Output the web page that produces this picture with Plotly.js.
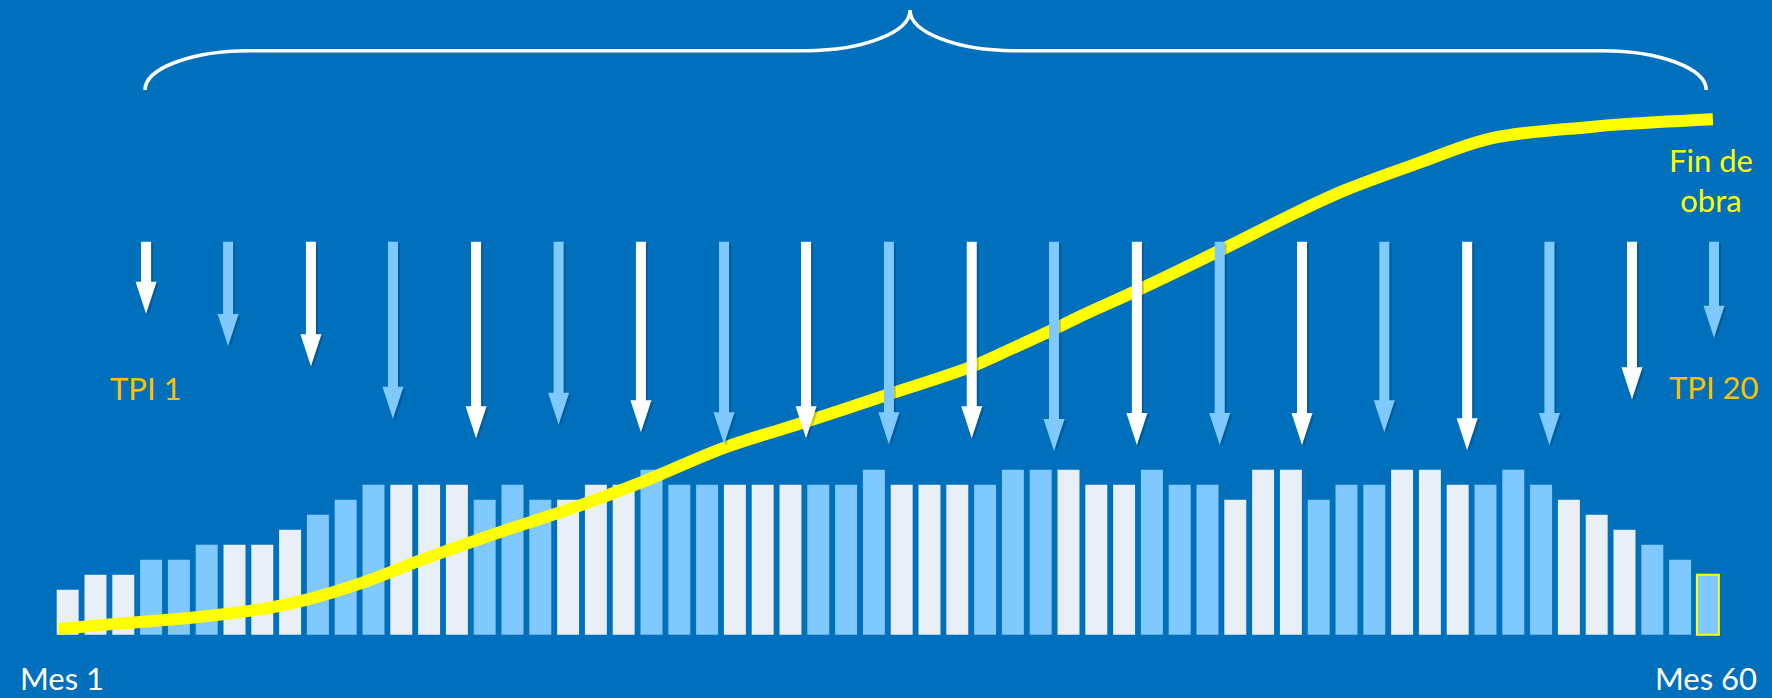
<!DOCTYPE html>
<html>
<head>
<meta charset="utf-8">
<script src="https://cdn.plot.ly/plotly-3.0.1.min.js"></script>
<style>
  html, body { margin: 0; padding: 0; background: #0070BC; }
  #chart { width: 1772px; height: 698px; }
</style>
</head>
<body>
<div id="chart"></div>
<script>
// ---------------- DATA ----------------
const months = [1,2,3,4,5,6,7,8,9,10,11,12,13,14,15,16,17,18,19,20,
                21,22,23,24,25,26,27,28,29,30,31,32,33,34,35,36,37,38,39,40,
                41,42,43,44,45,46,47,48,49,50,51,52,53,54,55,56,57,58,59,60];
const barValues = [3,4,4,5,5,6,6,6,7,8,9,10,10,10,10,9,10,9,9,10,
                   10,11,10,10,10,10,10,10,10,11,10,10,10,10,11,11,11,10,10,11,
                   10,10,9,11,11,9,10,10,11,11,10,10,11,10,9,8,7,6,5,4];
const barTone = ['w','w','w','b','b','b','w','w','w','b','b','b','w','w','w','b','b','b','w','w',
                 'w','b','b','b','w','w','w','b','b','b','w','w','w','b','b','b','w','w','w','b',
                 'b','b','w','w','w','b','b','b','w','w','w','b','b','b','w','w','w','b','b','b'];
const highlightMonth = 60;

// cumulative progress S-curve (month, %)
const curveMonth = [0.65,2.70,5.44,8.21,9.57,11.66,13.71,16.44,19.36,21.83,24.58,27.58,30.46,
                    33.52,35.00,36.44,37.41,39.50,42.50,45.15,46.95,49.58,52.24,55.80,56.84,60.18];
const curvePct   = [0,1.0,2.2,4.1,5.7,9.2,13.5,18.8,24.1,29.2,35.5,40.7,45.9,
                    51.5,55.1,58.7,61.3,66.5,74.4,81.6,86.1,91.4,96.3,98.5,99.0,100];

// TPI arrows (position in months, tip level, tone)
const arrowMonth = [3.82,6.77,9.75,12.70,15.69,18.66,21.62,24.61,27.56,30.54,
                    33.52,36.48,39.46,42.44,45.40,48.36,51.34,54.30,57.27,60.22];
const arrowTip   = [21.4,19.25,17.9,14.4,13.1,14.0,13.5,12.7,13.1,12.7,
                    13.1,12.25,12.65,12.65,12.65,13.5,12.3,12.65,15.7,19.8];
const arrowTone  = ['w','b','w','b','w','b','w','b','w','b','w','b','w','b','w','b','w','b','w','b'];
const arrowTop = 26.2;

const tickMonths = [1, 60];
const tickLabels = ['Mes 1', 'Mes 60'];
const tpiLabels = ['TPI 1', 'TPI 20'];
const endLabel = 'Fin de<br>obra';

// ---------------- STYLE ----------------
const BG = '#0070BC';
const WHITE_BAR = '#E9EFF7';
const BLUE_BAR = '#7FC9FF';
const YELLOW = '#FFFF00';
const GOLD = '#FFC000';
const FONT = 'Lato, "Open Sans", sans-serif';

const W = 1772, H = 698;
// axis geometry
const xRange = [-1.435, 62.306];
const yRange = [-4.22, 42.313];
const y2Range = [-13.54, 123.4];
const pxPerMonth = W / (xRange[1] - xRange[0]);
const pxPerUnit = H / (yRange[1] - yRange[0]);

// bars
const barColors = barTone.map(t => t === 'w' ? WHITE_BAR : BLUE_BAR);
const barLineColors = months.map(m => m === highlightMonth ? YELLOW : 'rgba(0,0,0,0)');
const barLineWidths = months.map(m => m === highlightMonth ? 2 : 0);

// arrows built from data through axis units
const shaftHalf = 5 / pxPerMonth;
const headHalf = 10.5 / pxPerMonth;
const headLen = 32 / pxPerUnit;
function arrowPolys(tone, dx, dy) {
  const xs = [], ys = [];
  arrowMonth.forEach((m, i) => {
    if (arrowTone[i] !== tone) return;
    const c = m + dx, tip = arrowTip[i] + dy, top = arrowTop + dy, hb = tip + headLen;
    xs.push(c - shaftHalf, c + shaftHalf, c + shaftHalf, c + headHalf, c, c - headHalf, c - shaftHalf, c - shaftHalf, null);
    ys.push(top, top, hb, hb, tip, hb, hb, top, null);
  });
  return {xs, ys};
}
function arrowTrace(tone, color, dx, dy) {
  const p = arrowPolys(tone, dx, dy);
  return {
    type: 'scatter', mode: 'lines', x: p.xs, y: p.ys, yaxis: 'y3',
    fill: 'toself', fillcolor: color, line: {width: 0, color: color},
    hoverinfo: 'skip', connectgaps: false
  };
}
const sdx = 2 / pxPerMonth, sdy = -2 / pxPerUnit;

const traces = [
  {
    type: 'bar', x: months, y: barValues,
    marker: {color: barColors, line: {color: barLineColors, width: barLineWidths}},
    hoverinfo: 'skip'
  },
  {
    type: 'scatter', mode: 'lines', x: curveMonth, y: curvePct, yaxis: 'y2',
    line: {color: YELLOW, width: 12, shape: 'spline', smoothing: 1.0},
    hoverinfo: 'skip'
  },
  arrowTrace('w', 'rgba(0,25,60,0.22)', sdx, sdy),
  arrowTrace('b', 'rgba(0,25,60,0.22)', sdx, sdy),
  arrowTrace('w', '#FFFFFF', 0, 0),
  arrowTrace('b', BLUE_BAR, 0, 0)
];

// brace spanning the TPI sequence
const braceLeft = 3.78, braceTip = 31.30, braceRight = 59.94;
const corner = 104 / pxPerMonth;
const yEnd = 1 - 90 / H, yLine = 1 - 50.7 / H, yTip = 1 - 10 / H;
const k = 0.55;
const ey = (yLine - yEnd) * k, ty = (yTip - yLine) * k;
const bracePath =
  `M ${braceLeft},${yEnd} C ${braceLeft},${yEnd + ey} ${braceLeft + corner*(1-k)},${yLine} ${braceLeft + corner},${yLine} ` +
  `L ${braceTip - corner},${yLine} C ${braceTip - corner*(1-k)},${yLine} ${braceTip},${yTip - ty} ${braceTip},${yTip} ` +
  `C ${braceTip},${yTip - ty} ${braceTip + corner*(1-k)},${yLine} ${braceTip + corner},${yLine} ` +
  `L ${braceRight - corner},${yLine} C ${braceRight - corner*(1-k)},${yLine} ${braceRight},${yEnd + ey} ${braceRight},${yEnd}`;

const annotations = [
  {text: tpiLabels[0], x: arrowMonth[0], xref: 'x', y: 1 - 388/H, yref: 'paper',
   xanchor: 'center', yanchor: 'middle', showarrow: false, font: {family: FONT, size: 31, color: GOLD}},
  {text: tpiLabels[1], x: arrowMonth[arrowMonth.length-1], xref: 'x', y: 1 - 387/H, yref: 'paper',
   xanchor: 'center', yanchor: 'middle', showarrow: false, font: {family: FONT, size: 31, color: GOLD}},
  {text: endLabel, x: 60.1, xref: 'x', y: 1 - 180/H, yref: 'paper',
   xanchor: 'center', yanchor: 'middle', showarrow: false, align: 'center',
   font: {family: FONT, size: 31, color: YELLOW}},
  {text: tickLabels[0], x: 19/W, xref: 'paper', y: 0, yref: 'paper', borderpad: 0,
   xanchor: 'left', yanchor: 'bottom', showarrow: false, font: {family: FONT, size: 31, color: '#FFFFFF'}},
  {text: tickLabels[1], x: 1758/W, xref: 'paper', y: 0, yref: 'paper', borderpad: 0,
   xanchor: 'right', yanchor: 'bottom', showarrow: false, font: {family: FONT, size: 31, color: '#FFFFFF'}}
];

const layout = {
  width: W, height: H,
  margin: {l: 0, r: 0, t: 0, b: 0, pad: 0},
  paper_bgcolor: BG, plot_bgcolor: BG,
  showlegend: false,
  bargap: 0.21,
  xaxis: {range: xRange, visible: false, fixedrange: true},
  yaxis: {range: yRange, visible: false, fixedrange: true},
  yaxis2: {range: y2Range, overlaying: 'y', visible: false, fixedrange: true},
  yaxis3: {range: yRange, overlaying: 'y', visible: false, fixedrange: true},
  shapes: [{type: 'path', xref: 'x', yref: 'paper', path: bracePath,
            line: {color: '#FFFFFF', width: 3.5}, layer: 'above'}],
  annotations: annotations
};

Plotly.newPlot('chart', traces, layout, {staticPlot: true, displayModeBar: false});
</script>
</body>
</html>
